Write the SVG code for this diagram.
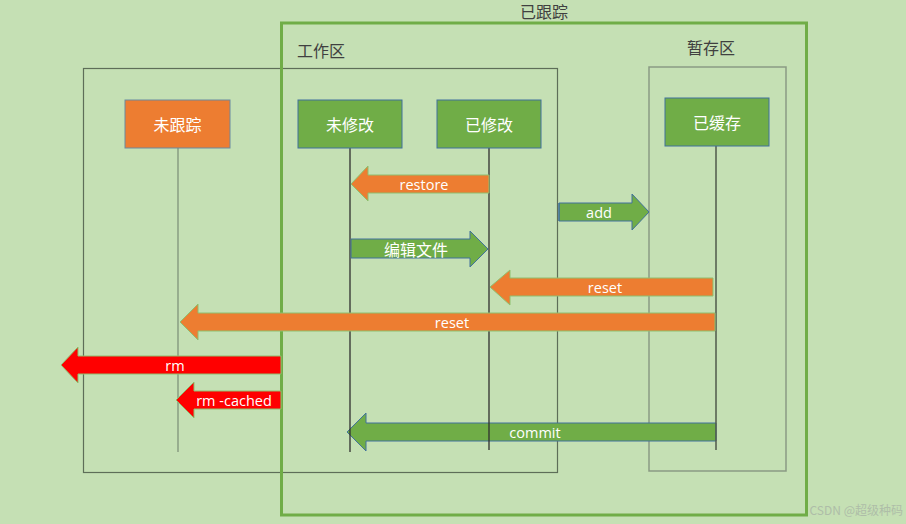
<svg xmlns="http://www.w3.org/2000/svg" width="906" height="524" viewBox="0 0 906 524">
  <style>
    .lbl { font-family: "Noto Sans CJK SC", "Noto Sans", sans-serif; font-size: 16px; fill: #404040; text-anchor: middle; }
    .ntxt { font-family: "Noto Sans CJK SC", "Noto Sans", sans-serif; font-size: 16px; fill: #ffffff; text-anchor: middle; dominant-baseline: central; }
    .atxt { font-family: "Open Sans", "Noto Sans CJK SC", sans-serif; font-size: 14.5px; fill: #ffffff; text-anchor: middle; dominant-baseline: central; }
    .green { fill: #70AD47; stroke: #41719C; stroke-width: 1; }
    .orange { fill: #ED7D31; stroke: #8FBF6E; stroke-width: 1; }
    .red { fill: #FF0000; stroke: #8FBF6E; stroke-width: 1; }
    .life { stroke: #2F2F2F; stroke-width: 1.3; fill: none; }
  </style>
  <rect x="0" y="0" width="906" height="524" fill="#C5E0B4"/>

  <g id="containers">
    <rect x="83.5" y="68.5" width="474" height="404" fill="none" stroke="#5E6E58" stroke-width="1.2"/>
    <rect x="649" y="67" width="137" height="404" fill="none" stroke="#8A9A84" stroke-width="1.5"/>
    <rect x="281.5" y="23" width="525" height="492" fill="none" stroke="#70AD47" stroke-width="3"/>
    <text class="lbl" x="544" y="18">已跟踪</text>
    <text class="lbl" x="321" y="57">工作区</text>
    <text class="lbl" x="711" y="54">暂存区</text>
  </g>

  <g id="connectors">
    <g id="commit">
      <polygon class="green" points="716,423 366,423 366,413 347,432 366,451 366,441 716,441"/>
      <text class="atxt" x="535" y="432">commit</text>
    </g>
    <g id="lifelines">
      <line x1="178" y1="148" x2="178" y2="452" stroke="#7F937A" stroke-width="1.3"/>
      <line class="life" x1="350" y1="148" x2="350" y2="452"/>
      <line class="life" x1="489" y1="148" x2="489" y2="450"/>
      <line x1="716" y1="146" x2="716" y2="450" stroke="#4F5A4B" stroke-width="1.5"/>
    </g>
    <g id="restore">
      <polygon class="orange" points="489,175 368,175 368,166 351,184 368,201 368,193 489,193"/>
      <text class="atxt" x="424" y="184">restore</text>
    </g>
    <g id="add">
      <polygon class="green" points="559,203 632,203 632,194 649,212 632,230 632,221 559,221" stroke="none"/>
      <line x1="559" y1="203" x2="559" y2="221" stroke="#41719C" stroke-width="1.2"/>
      <text class="atxt" x="599" y="212">add</text>
    </g>
    <g id="edit">
      <polygon class="green" points="351,239 470,239 470,231 488,249 470,267 470,258 351,258"/>
      <text class="atxt" x="416" y="249" style="font-family:'Noto Sans CJK SC',sans-serif;font-size:16px">编辑文件</text>
    </g>
    <g id="reset1">
      <polygon class="orange" points="713,278 510,278 510,270 490,287 510,305 510,296 713,296"/>
      <text class="atxt" x="605" y="287">reset</text>
    </g>
    <g id="reset2">
      <polygon class="orange" points="715,313 198,313 198,304 180,322 198,340 198,331 715,331"/>
      <text class="atxt" x="452" y="322">reset</text>
    </g>
    <g id="rm">
      <polygon class="red" points="281,356 78,356 78,347 61,365 78,383 78,374 281,374"/>
      <text class="atxt" x="175" y="365">rm</text>
    </g>
    <g id="rm-cached">
      <polygon class="red" points="281,391 194,391 194,382 176,400 194,418 194,409 281,409"/>
      <text class="atxt" x="234" y="400">rm -cached</text>
    </g>
  </g>

  <g id="untracked">
    <rect x="125" y="100" width="105" height="48" fill="#ED7D31" stroke="#6A8AA0" stroke-width="1"/>
    <text class="ntxt" x="177.5" y="124">未跟踪</text>
  </g>
  <g id="unmodified">
    <rect x="298" y="100" width="104" height="48" class="green"/>
    <text class="ntxt" x="350" y="124">未修改</text>
  </g>
  <g id="modified">
    <rect x="437" y="100" width="104" height="48" class="green"/>
    <text class="ntxt" x="489" y="124">已修改</text>
  </g>
  <g id="staged">
    <rect x="665" y="98" width="104" height="48" class="green"/>
    <text class="ntxt" x="717" y="122">已缓存</text>
  </g>

  <text x="903" y="515" text-anchor="end" font-family="Noto Sans CJK SC, sans-serif" font-size="12" fill="#AEBDA8">CSDN @超级种码</text>
</svg>
